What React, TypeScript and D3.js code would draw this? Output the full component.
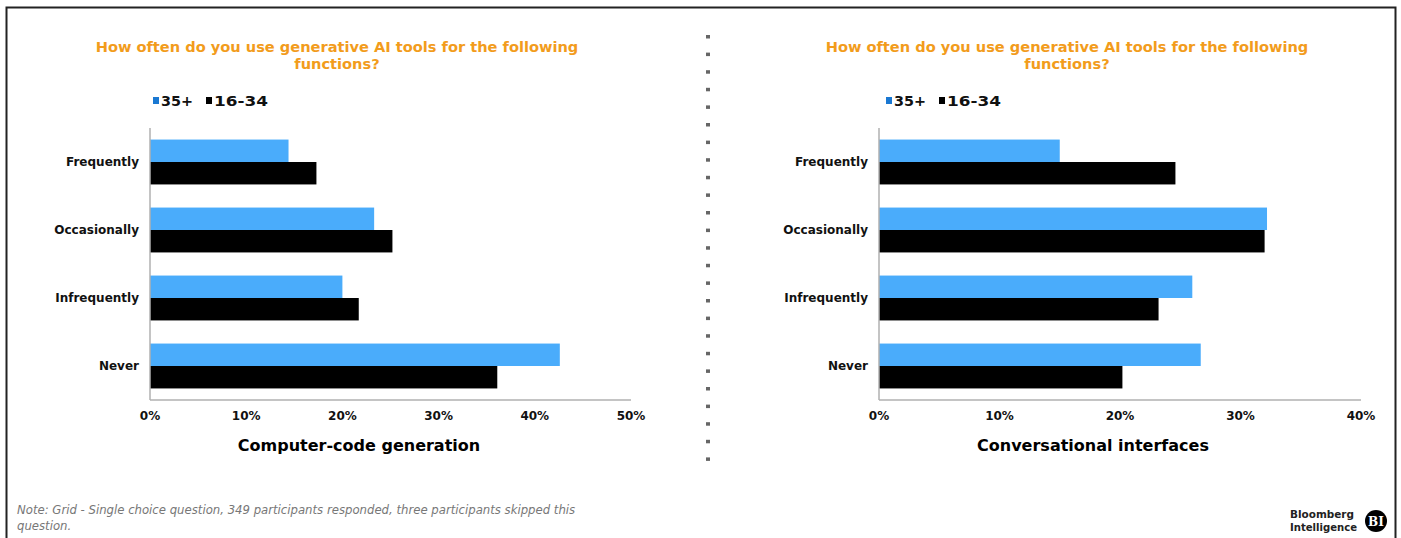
import React from "react";
import * as d3 from "d3";

const categories = ["Frequently", "Occasionally", "Infrequently", "Never"];
const seriesNames = ["35+", "16-34"];
const codeGen35 = [14.4, 23.3, 20.0, 42.6];
const codeGen1634 = [17.3, 25.2, 21.7, 36.1];
const conv35 = [15.0, 32.2, 26.0, 26.7];
const conv1634 = [24.6, 32.0, 23.2, 20.2];
const codeTicks = [0, 10, 20, 30, 40, 50];
const convTicks = [0, 10, 20, 30, 40];
const titleLines = ["How often do you use generative AI tools for the following", "functions?"];
const noteLines = [
  "Note: Grid - Single choice question, 349 participants responded, three participants skipped this",
  "question.",
];

const W = 1401;
const H = 538;
const FONT = "Tahoma, 'DejaVu Sans', Verdana, sans-serif";
const BLUE = "#4aacfb";
const LEGEND_BLUE = "#1a78d2";
const ORANGE = "#f29c1c";

type PanelProps = {
  x0: number;
  x1: number;
  max: number;
  ticks: number[];
  s35: number[];
  s1634: number[];
  axisTitle: string;
  axisTitleX: number;
  titleX: number;
  legendX: number;
};

function Panel({ x0, x1, max, ticks, s35, s1634, axisTitle, axisTitleX, titleX, legendX }: PanelProps) {
  const x = d3.scaleLinear().domain([0, max]).range([x0, x1]);
  const y = d3.scaleBand<string>().domain(categories).range([128, 400]).paddingInner(0.34).paddingOuter(0.17);
  const sub = d3.scaleBand<string>().domain(seriesNames).range([0, y.bandwidth()]);
  const series = [s35, s1634];
  const colors = [BLUE, "#000000"];
  return (
    <g>
      {titleLines.map((t, i) => (
        <text key={i} x={titleX} y={52 + i * 17} textAnchor="middle" fill={ORANGE} fontSize={14.6} fontWeight="bold" fontFamily={FONT}>
          {t}
        </text>
      ))}
      <g fontFamily={FONT} fontWeight="bold" fontSize={14.5}>
        <rect x={legendX} y={97} width={6} height={7} fill={LEGEND_BLUE} />
        <text x={legendX + 8} y={106} fill="#111" textLength={32} lengthAdjust="spacingAndGlyphs">{seriesNames[0]}</text>
        <rect x={legendX + 53} y={97} width={6} height={7} fill="#000" />
        <text x={legendX + 61} y={106} fill="#111" textLength={54} lengthAdjust="spacingAndGlyphs">{seriesNames[1]}</text>
      </g>
      {categories.map((c, ci) =>
        series.map((s, si) => (
          <rect
            key={c + si}
            x={x(0)}
            y={(y(c) as number) + (sub(seriesNames[si]) as number)}
            width={x(s[ci]) - x(0)}
            height={sub.bandwidth()}
            fill={colors[si]}
          />
        ))
      )}
      <line x1={x0} x2={x0} y1={128} y2={400} stroke="#b0b0b0" strokeWidth={1.5} />
      <line x1={x0} x2={x1} y1={400} y2={400} stroke="#b0b0b0" strokeWidth={1.5} />
      {categories.map((c) => (
        <text
          key={c}
          x={x0 - 11}
          y={(y(c) as number) + y.bandwidth() / 2 + 4}
          textAnchor="end"
          fontFamily={FONT}
          fontWeight="bold"
          fontSize={12}
          fill="#111"
        >
          {c}
        </text>
      ))}
      {ticks.map((t) => (
        <text key={t} x={x(t)} y={420} textAnchor="middle" fontFamily={FONT} fontWeight="bold" fontSize={12} fill="#111">
          {t + "%"}
        </text>
      ))}
      <text x={axisTitleX} y={451} textAnchor="middle" fontFamily={FONT} fontWeight="bold" fontSize={16} fill="#000">
        {axisTitle}
      </text>
    </g>
  );
}

export default function App() {
  const dots = d3.range(35, 460, 17.6);
  return (
    <svg width={W} height={H} style={{ position: "absolute", left: 0, top: 0, background: "#fff" }}>
      <rect x={0} y={0} width={W} height={H} fill="#fff" />
      <path d={`M6.5,${H} L6.5,7.5 L1395.5,7.5 L1395.5,${H}`} fill="none" stroke="#222" strokeWidth={2} />
      {dots.map((d, i) => (
        <rect key={i} x={706} y={d} width={4} height={3.5} fill="#666" />
      ))}
      <Panel
        x0={150}
        x1={631}
        max={50}
        ticks={codeTicks}
        s35={codeGen35}
        s1634={codeGen1634}
        axisTitle="Computer-code generation"
        axisTitleX={359}
        titleX={337}
        legendX={153}
      />
      <Panel
        x0={879}
        x1={1361}
        max={40}
        ticks={convTicks}
        s35={conv35}
        s1634={conv1634}
        axisTitle="Conversational interfaces"
        axisTitleX={1093}
        titleX={1067}
        legendX={886}
      />
      {noteLines.map((t, i) => (
        <text key={i} x={17} y={514 + i * 16} fontFamily={FONT} fontStyle="italic" fontSize={11.7} fill="#777">
          {t}
        </text>
      ))}
      <g fontFamily={FONT} fontSize={10.5} fontWeight={600} fill="#222">
        <text x={1290} y={518} textLength={64} lengthAdjust="spacingAndGlyphs">Bloomberg</text>
        <text x={1290} y={531} textLength={67} lengthAdjust="spacingAndGlyphs">Intelligence</text>
      </g>
      <circle cx={1376} cy={521} r={11} fill="#000" />
      <text x={1376} y={525.5} textAnchor="middle" fontFamily="'DejaVu Serif', serif" fontWeight="bold" fontSize={12} fill="#fff">
        BI
      </text>
    </svg>
  );
}
